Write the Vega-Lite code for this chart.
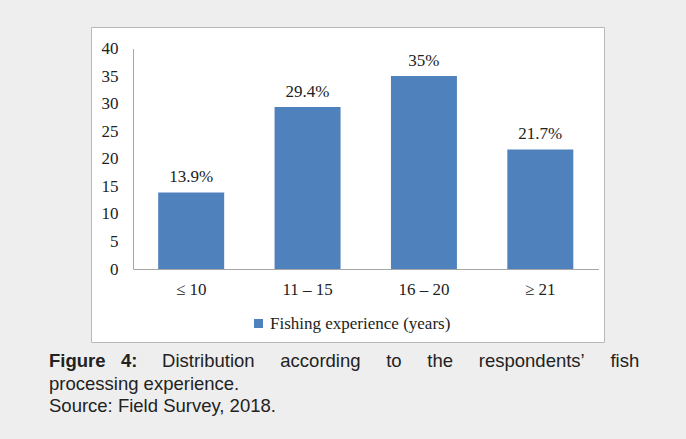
{
  "$schema": "https://vega.github.io/schema/vega-lite/v6.json",
  "width": 513,
  "height": 315,
  "autosize": {"type": "none"},
  "padding": {"left": 91, "top": 27, "right": 82, "bottom": 97},
  "background": "#eeeeee",
  "view": {"fill": "white", "stroke": "#b8b8b8", "strokeWidth": 1},
  "title": {
    "text": "Figure\u00a0\u00a0\u00a04:",
    "subtitle": [
      "\u200b\u00a0\u00a0\u00a0\u00a0\u00a0\u00a0\u00a0\u00a0\u00a0\u00a0\u00a0\u00a0\u00a0\u00a0\u00a0\u00a0\u00a0\u00a0\u00a0\u00a0\u00a0\u00a0Distribution\u00a0\u00a0\u00a0\u00a0\u00a0according\u00a0\u00a0\u00a0\u00a0\u00a0to\u00a0\u00a0\u00a0\u00a0\u00a0the\u00a0\u00a0\u00a0\u00a0\u00a0respondents’\u00a0\u00a0\u00a0\u00a0\u00a0fish",
      "processing experience.",
      "Source: Field Survey, 2018."
    ],
    "orient": "bottom",
    "anchor": "start",
    "frame": "group",
    "font": "Liberation Sans",
    "fontSize": 18.5,
    "fontWeight": "bold",
    "color": "#222222",
    "subtitleFont": "Liberation Sans",
    "subtitleFontSize": 18.5,
    "subtitleFontWeight": "normal",
    "subtitleColor": "#222222",
    "subtitleLineHeight": 22.5,
    "subtitlePadding": -18.5,
    "offset": 10,
    "dx": -42
  },
  "data": {
    "values": [
      {"experience": "≤ 10", "percent": 13.9, "label": "13.9%", "series": "Fishing experience (years)"},
      {"experience": "11 – 15", "percent": 29.4, "label": "29.4%", "series": "Fishing experience (years)"},
      {"experience": "16 – 20", "percent": 35, "label": "35%", "series": "Fishing experience (years)"},
      {"experience": "≥ 21", "percent": 21.7, "label": "21.7%", "series": "Fishing experience (years)"}
    ]
  },
  "encoding": {
    "x": {
      "field": "experience",
      "type": "nominal",
      "sort": null,
      "scale": {"range": [42, 507.5], "paddingInner": 0.433, "paddingOuter": 0.2165},
      "axis": {
        "orient": "bottom",
        "offset": -73,
        "ticks": false,
        "grid": false,
        "domainColor": "#a6a6a6",
        "labelFont": "Liberation Serif",
        "labelFontSize": 17,
        "labelColor": "#222222",
        "labelPadding": 12,
        "labelAngle": 0,
        "title": null
      }
    },
    "y": {
      "field": "percent",
      "type": "quantitative",
      "scale": {"domain": [0, 40], "range": [242, 21.5], "nice": false, "zero": true},
      "axis": {
        "orient": "left",
        "offset": -42,
        "values": [0, 5, 10, 15, 20, 25, 30, 35, 40],
        "ticks": false,
        "grid": false,
        "domainColor": "#a6a6a6",
        "labelFont": "Liberation Serif",
        "labelFontSize": 17,
        "labelColor": "#222222",
        "labelPadding": 15,
        "title": null
      }
    }
  },
  "layer": [
    {
      "mark": {"type": "bar"},
      "encoding": {
        "color": {
          "field": "series",
          "type": "nominal",
          "scale": {"range": ["#4f81bd"]},
          "legend": {
            "orient": "none",
            "legendX": 159,
            "legendY": 288,
            "title": null,
            "symbolType": "square",
            "symbolSize": 81,
            "symbolStrokeWidth": 0,
            "labelFont": "Liberation Serif",
            "labelFontSize": 17,
            "labelColor": "#222222",
            "labelOffset": 3,
            "labelLimit": 0
          }
        }
      }
    },
    {
      "mark": {"type": "text", "dy": -10, "baseline": "alphabetic", "font": "Liberation Serif", "fontSize": 17, "color": "#222222"},
      "encoding": {"text": {"field": "label"}}
    }
  ]
}
